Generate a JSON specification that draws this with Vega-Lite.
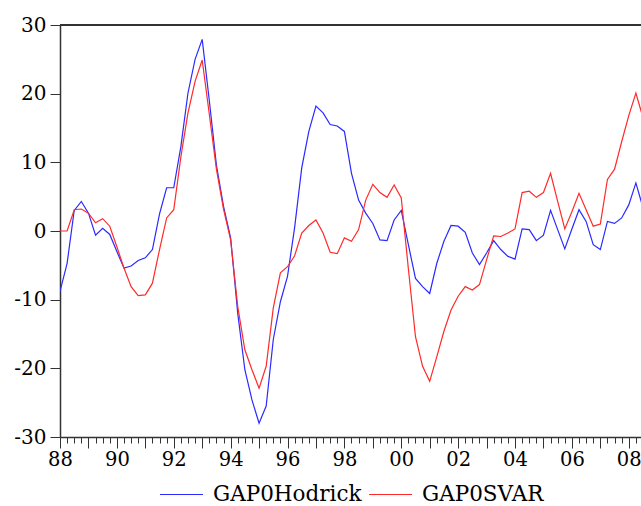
{
  "$schema": "https://vega.github.io/schema/vega-lite/v6.json",
  "width": 581,
  "height": 412,
  "autosize": {"type": "none"},
  "padding": {"left": 60, "top": 25, "right": 0, "bottom": 69},
  "background": "white",
  "config": {"view": {"stroke": null}, "font": "DejaVu Serif"},
  "data": {
    "values": [
      {"t": 1988, "GAP0Hodrick": -8.8, "GAP0SVAR": 0},
      {"t": 1988.25, "GAP0Hodrick": -4.7, "GAP0SVAR": 0},
      {"t": 1988.5, "GAP0Hodrick": 3.0, "GAP0SVAR": 3.1},
      {"t": 1988.75, "GAP0Hodrick": 4.3, "GAP0SVAR": 3.2},
      {"t": 1989, "GAP0Hodrick": 2.6, "GAP0SVAR": 2.6},
      {"t": 1989.25, "GAP0Hodrick": -0.6, "GAP0SVAR": 1.2},
      {"t": 1989.5, "GAP0Hodrick": 0.4, "GAP0SVAR": 1.8},
      {"t": 1989.75, "GAP0Hodrick": -0.5, "GAP0SVAR": 0.7},
      {"t": 1990, "GAP0Hodrick": -3.0, "GAP0SVAR": -2.3},
      {"t": 1990.25, "GAP0Hodrick": -5.4, "GAP0SVAR": -5.4},
      {"t": 1990.5, "GAP0Hodrick": -5.1, "GAP0SVAR": -8.1},
      {"t": 1990.75, "GAP0Hodrick": -4.3, "GAP0SVAR": -9.4},
      {"t": 1991, "GAP0Hodrick": -3.9, "GAP0SVAR": -9.3},
      {"t": 1991.25, "GAP0Hodrick": -2.7, "GAP0SVAR": -7.6},
      {"t": 1991.5, "GAP0Hodrick": 2.5, "GAP0SVAR": -2.7},
      {"t": 1991.75, "GAP0Hodrick": 6.3, "GAP0SVAR": 1.9},
      {"t": 1992, "GAP0Hodrick": 6.3, "GAP0SVAR": 3.1},
      {"t": 1992.25, "GAP0Hodrick": 12.3, "GAP0SVAR": 10.8},
      {"t": 1992.5, "GAP0Hodrick": 20.1, "GAP0SVAR": 17.2},
      {"t": 1992.75, "GAP0Hodrick": 25.0, "GAP0SVAR": 21.8},
      {"t": 1993, "GAP0Hodrick": 27.9, "GAP0SVAR": 24.9},
      {"t": 1993.25, "GAP0Hodrick": 19.0, "GAP0SVAR": 17.0},
      {"t": 1993.5, "GAP0Hodrick": 9.6, "GAP0SVAR": 9.0},
      {"t": 1993.75, "GAP0Hodrick": 3.6, "GAP0SVAR": 3.2},
      {"t": 1994, "GAP0Hodrick": -1.0, "GAP0SVAR": -1.3},
      {"t": 1994.25, "GAP0Hodrick": -12.0, "GAP0SVAR": -11.0},
      {"t": 1994.5, "GAP0Hodrick": -20.2, "GAP0SVAR": -17.3},
      {"t": 1994.75, "GAP0Hodrick": -24.6, "GAP0SVAR": -20.2},
      {"t": 1995, "GAP0Hodrick": -28.0, "GAP0SVAR": -22.9},
      {"t": 1995.25, "GAP0Hodrick": -25.5, "GAP0SVAR": -19.7},
      {"t": 1995.5, "GAP0Hodrick": -15.8, "GAP0SVAR": -11.2},
      {"t": 1995.75, "GAP0Hodrick": -10.3, "GAP0SVAR": -6.1},
      {"t": 1996, "GAP0Hodrick": -6.6, "GAP0SVAR": -5.2},
      {"t": 1996.25, "GAP0Hodrick": 0.5, "GAP0SVAR": -3.6},
      {"t": 1996.5, "GAP0Hodrick": 9.2, "GAP0SVAR": -0.3},
      {"t": 1996.75, "GAP0Hodrick": 14.5, "GAP0SVAR": 0.8},
      {"t": 1997, "GAP0Hodrick": 18.2, "GAP0SVAR": 1.6},
      {"t": 1997.25, "GAP0Hodrick": 17.2, "GAP0SVAR": -0.3},
      {"t": 1997.5, "GAP0Hodrick": 15.5, "GAP0SVAR": -3.1},
      {"t": 1997.75, "GAP0Hodrick": 15.3, "GAP0SVAR": -3.3},
      {"t": 1998, "GAP0Hodrick": 14.5, "GAP0SVAR": -1.0},
      {"t": 1998.25, "GAP0Hodrick": 8.4, "GAP0SVAR": -1.5},
      {"t": 1998.5, "GAP0Hodrick": 4.5, "GAP0SVAR": 0.2},
      {"t": 1998.75, "GAP0Hodrick": 2.6, "GAP0SVAR": 4.5},
      {"t": 1999, "GAP0Hodrick": 1.1, "GAP0SVAR": 6.8},
      {"t": 1999.25, "GAP0Hodrick": -1.3, "GAP0SVAR": 5.6},
      {"t": 1999.5, "GAP0Hodrick": -1.4, "GAP0SVAR": 4.9},
      {"t": 1999.75, "GAP0Hodrick": 1.6, "GAP0SVAR": 6.7},
      {"t": 2000, "GAP0Hodrick": 3.0, "GAP0SVAR": 4.8},
      {"t": 2000.25, "GAP0Hodrick": -2.0, "GAP0SVAR": -5.5},
      {"t": 2000.5, "GAP0Hodrick": -6.9, "GAP0SVAR": -15.4},
      {"t": 2000.75, "GAP0Hodrick": -8.1, "GAP0SVAR": -19.7},
      {"t": 2001, "GAP0Hodrick": -9.1, "GAP0SVAR": -21.9},
      {"t": 2001.25, "GAP0Hodrick": -4.7, "GAP0SVAR": -18.3},
      {"t": 2001.5, "GAP0Hodrick": -1.5, "GAP0SVAR": -14.6},
      {"t": 2001.75, "GAP0Hodrick": 0.8, "GAP0SVAR": -11.5},
      {"t": 2002, "GAP0Hodrick": 0.7, "GAP0SVAR": -9.5},
      {"t": 2002.25, "GAP0Hodrick": -0.2, "GAP0SVAR": -8.1},
      {"t": 2002.5, "GAP0Hodrick": -3.2, "GAP0SVAR": -8.6},
      {"t": 2002.75, "GAP0Hodrick": -4.9, "GAP0SVAR": -7.8},
      {"t": 2003, "GAP0Hodrick": -3.2, "GAP0SVAR": -4.2},
      {"t": 2003.25, "GAP0Hodrick": -1.4, "GAP0SVAR": -0.7},
      {"t": 2003.5, "GAP0Hodrick": -2.7, "GAP0SVAR": -0.8},
      {"t": 2003.75, "GAP0Hodrick": -3.7, "GAP0SVAR": -0.3},
      {"t": 2004, "GAP0Hodrick": -4.1, "GAP0SVAR": 0.3},
      {"t": 2004.25, "GAP0Hodrick": 0.3, "GAP0SVAR": 5.6},
      {"t": 2004.5, "GAP0Hodrick": 0.2, "GAP0SVAR": 5.8},
      {"t": 2004.75, "GAP0Hodrick": -1.4, "GAP0SVAR": 4.9},
      {"t": 2005, "GAP0Hodrick": -0.6, "GAP0SVAR": 5.6},
      {"t": 2005.25, "GAP0Hodrick": 3.0, "GAP0SVAR": 8.4},
      {"t": 2005.5, "GAP0Hodrick": 0.2, "GAP0SVAR": 4.3},
      {"t": 2005.75, "GAP0Hodrick": -2.6, "GAP0SVAR": 0.3},
      {"t": 2006, "GAP0Hodrick": 0.3, "GAP0SVAR": 2.8},
      {"t": 2006.25, "GAP0Hodrick": 3.1, "GAP0SVAR": 5.5},
      {"t": 2006.5, "GAP0Hodrick": 1.4, "GAP0SVAR": 3.1},
      {"t": 2006.75, "GAP0Hodrick": -2.0, "GAP0SVAR": 0.7},
      {"t": 2007, "GAP0Hodrick": -2.7, "GAP0SVAR": 1.0},
      {"t": 2007.25, "GAP0Hodrick": 1.4, "GAP0SVAR": 7.5},
      {"t": 2007.5, "GAP0Hodrick": 1.1, "GAP0SVAR": 9.0},
      {"t": 2007.75, "GAP0Hodrick": 1.9, "GAP0SVAR": 13.0},
      {"t": 2008, "GAP0Hodrick": 3.8, "GAP0SVAR": 16.8},
      {"t": 2008.25, "GAP0Hodrick": 7.0, "GAP0SVAR": 20.1},
      {"t": 2008.5, "GAP0Hodrick": 3.4, "GAP0SVAR": 16.5}
    ]
  },
  "transform": [{"fold": ["GAP0Hodrick", "GAP0SVAR"], "as": ["series", "v"]}],
  "layer": [
    {
      "mark": {"type": "rule", "color": "#333", "strokeWidth": 1.5},
      "encoding": {"y": {"datum": 30, "type": "quantitative"}}
    },
    {
      "mark": {"type": "line", "strokeWidth": 1.2, "clip": true},
      "encoding": {
        "x": {
          "field": "t",
          "type": "quantitative",
          "scale": {"domain": [1988, 2008.43], "nice": false, "zero": false},
          "axis": {
            "title": null,
            "grid": false,
            "values": [1988, 1988.25, 1988.5, 1988.75, 1989, 1989.25, 1989.5, 1989.75, 1990, 1990.25, 1990.5, 1990.75, 1991, 1991.25, 1991.5, 1991.75, 1992, 1992.25, 1992.5, 1992.75, 1993, 1993.25, 1993.5, 1993.75, 1994, 1994.25, 1994.5, 1994.75, 1995, 1995.25, 1995.5, 1995.75, 1996, 1996.25, 1996.5, 1996.75, 1997, 1997.25, 1997.5, 1997.75, 1998, 1998.25, 1998.5, 1998.75, 1999, 1999.25, 1999.5, 1999.75, 2000, 2000.25, 2000.5, 2000.75, 2001, 2001.25, 2001.5, 2001.75, 2002, 2002.25, 2002.5, 2002.75, 2003, 2003.25, 2003.5, 2003.75, 2004, 2004.25, 2004.5, 2004.75, 2005, 2005.25, 2005.5, 2005.75, 2006, 2006.25, 2006.5, 2006.75, 2007, 2007.25, 2007.5, 2007.75, 2008, 2008.25],
            "labelExpr": "datum.value % 2 == 0 ? slice(toString(datum.value), 2) : ''",
            "tickSize": {"condition": {"test": "datum.value % 1 == 0", "value": 11}, "value": 6},
            "tickColor": "#333",
            "domainColor": "#333",
            "domainWidth": 1.5,
            "labelPadding": 2,
            "labelFont": "DejaVu Serif",
            "labelFontSize": 19.5,
            "labelColor": "#000",
            "labelOverlap": false,
            "labelFlush": false,
            "labelBound": false
          }
        },
        "y": {
          "field": "v",
          "type": "quantitative",
          "scale": {"domain": [-30, 30], "nice": false},
          "axis": {
            "title": null,
            "grid": false,
            "values": [-30, -20, -10, 0, 10, 20, 30],
            "labelExpr": "toString(datum.value)",
            "tickSize": 10,
            "labelPadding": 4,
            "tickColor": "#333",
            "domainColor": "#333",
            "domainWidth": 1.5,
            "labelFont": "DejaVu Serif",
            "labelFontSize": 20,
            "labelColor": "#000"
          }
        },
        "color": {
          "field": "series",
          "type": "nominal",
          "scale": {"domain": ["GAP0Hodrick", "GAP0SVAR"], "range": ["#2a2aff", "#ff2a2a"]},
          "legend": {
            "title": null,
            "orient": "none",
            "legendX": 99,
            "legendY": 447,
            "direction": "horizontal",
            "symbolType": "stroke",
            "symbolSize": 1849,
            "symbolStrokeWidth": 1.2,
            "labelFont": "DejaVu Serif",
            "labelFontSize": 21.5,
            "labelColor": "#000",
            "labelOffset": 9,
            "columnPadding": 4,
            "labelLimit": 300
          }
        }
      }
    }
  ]
}
